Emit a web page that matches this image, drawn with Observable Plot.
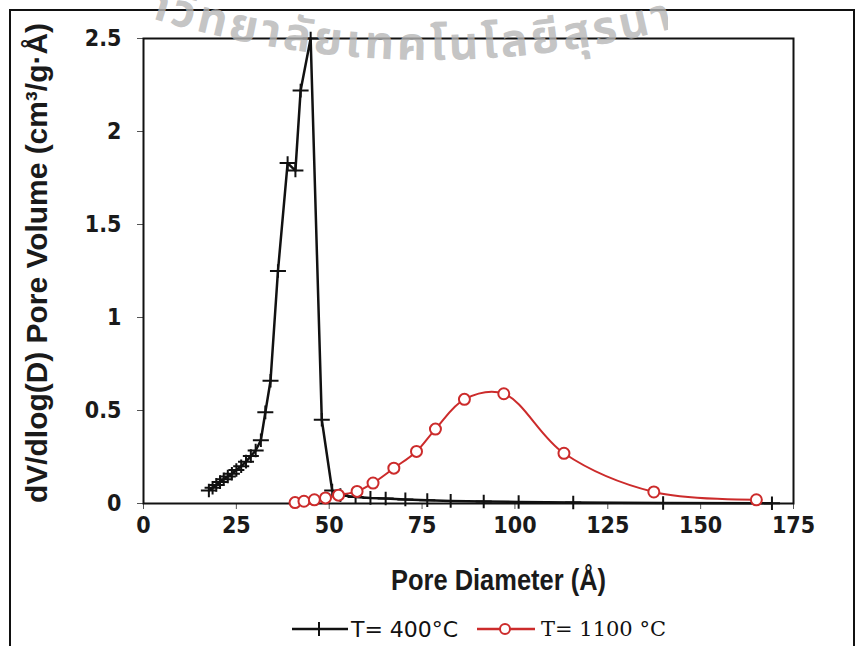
<!DOCTYPE html>
<html>
<head>
<meta charset="utf-8">
<script src="https://cdn.jsdelivr.net/npm/d3@7"></script>
<script src="https://cdn.jsdelivr.net/npm/@observablehq/plot@0.6"></script>
<style>
  html, body { margin: 0; padding: 0; background: #fff; }
  #wrap { position: relative; width: 857px; height: 646px; overflow: hidden; background: #fff; }
  #border { position: absolute; left: 9px; top: 9px; width: 846px; height: 700px; border: 2px solid #111; box-sizing: border-box; pointer-events: none; }
  #legend { position: relative; width: 857px; height: 34px; }
  #wm { position: absolute; left: 0; top: 0; pointer-events: none; }
</style>
</head>
<body>
<div id="wrap">
  <div id="chart"></div>
  <div id="legend"></div>
  <div id="border"></div>
  <svg id="wm" width="857" height="120"></svg>
</div>
<script>
// ---- data ----
const seriesNames = ["T= 400°C", "T= 1100 °C"];
const diameter400 = [17.6,18.6,19.6,20.6,21.6,22.7,23.8,25.0,26.3,27.6,28.9,30.2,31.6,32.8,34.2,36.2,38.8,40.9,42.3,45.0,48.0,50.8,53.0,57.1,61.1,65.2,70.5,76.4,82.7,91.6,101.0,115.7,139.9,169.2];
const volume400   = [0.07,0.085,0.10,0.115,0.13,0.145,0.16,0.18,0.20,0.225,0.255,0.285,0.34,0.49,0.66,1.25,1.83,1.79,2.22,2.5,0.45,0.07,0.045,0.035,0.03,0.027,0.022,0.018,0.014,0.011,0.008,0.005,0.003,0.001];
const diameter1100 = [40.8,43.2,46.0,49.0,52.5,57.5,61.8,67.4,73.5,78.6,86.4,97.0,113.2,137.4,165.0];
const volume1100   = [0.005,0.012,0.02,0.03,0.045,0.065,0.11,0.19,0.28,0.40,0.56,0.59,0.27,0.062,0.02];
const xTicks = [0,25,50,75,100,125,150,175];
const yTicks = [0,0.5,1,1.5,2,2.5];
const xTitle = "Pore Diameter (Å)";
const yTitle = "dV/dlog(D) Pore Volume (cm³/g·Å)";
const watermark = "มหาวิทยาลัยเทคโนโลยีสุรนารี";

const data400 = diameter400.map((d, i) => ({d, v: volume400[i]}));
const data1100 = diameter1100.map((d, i) => ({d, v: volume1100[i]}));

const plusSymbol = {
  draw(ctx, size) {
    const r = Math.sqrt(size / Math.PI);
    ctx.moveTo(-r, 0); ctx.lineTo(r, 0);
    ctx.moveTo(0, -r * 0.85); ctx.lineTo(0, r * 0.85);
  }
};

const black = "#111111";
const red = "#cc2b2b";
const tickFont = "'DejaVu Sans Condensed', 'DejaVu Sans', sans-serif";
const titleFont = "'Liberation Sans Narrow', 'Liberation Sans', Arial, sans-serif";

const chart = Plot.plot({
  width: 857,
  height: 612,
  marginLeft: 143,
  marginRight: 64,
  marginTop: 38,
  marginBottom: 109,
  style: { fontFamily: tickFont, fontSize: "23px", fontWeight: "bold", color: "#1a1a1a", background: "transparent", overflow: "visible" },
  x: { domain: [0, 175] },
  y: { domain: [0, 2.5] },
  marks: [
    Plot.axisX({ ticks: xTicks, tickSize: 6, tickPadding: 7, tickFormat: d => String(d), stroke: "#555",
      label: xTitle, labelAnchor: "center", labelOffset: 88, labelArrow: false }),
    Plot.axisY({ ticks: yTicks, tickSize: 6, tickPadding: 16, tickFormat: d => String(d), stroke: "#555",
      label: yTitle, labelAnchor: "center", labelOffset: 118, labelArrow: false }),
    Plot.frame({ stroke: black, strokeWidth: 2 }),
    Plot.line(data400, { x: "d", y: "v", stroke: black, strokeWidth: 2.5 }),
    Plot.dot(data400, { x: "d", y: "v", symbol: plusSymbol, r: 8, fill: "none", stroke: black, strokeWidth: 2 }),
    Plot.line(data1100, { x: "d", y: "v", stroke: red, strokeWidth: 2, curve: "catmull-rom" }),
    Plot.dot(data1100, { x: "d", y: "v", r: 5.5, fill: "white", stroke: red, strokeWidth: 2 })
  ]
});
document.getElementById("chart").appendChild(chart);

// style the axis titles (exact text, fitted length, small shift as in the reference)
const svg = d3.select(chart);
function fitTitle(sel, text, size, len, dx, dy) {
  sel.each(function () {
    const t = d3.select(this);
    t.selectAll("tspan").remove();
    t.text(text)
      .style("font-family", titleFont).style("font-size", size).style("font-weight", "bold")
      .attr("textLength", len).attr("lengthAdjust", "spacingAndGlyphs");
    const tr = t.attr("transform") || "";
    t.attr("transform", `translate(${dx},${dy}) ${tr}`);
  });
}
fitTitle(svg.selectAll('g[aria-label="x-axis label"] text'), xTitle, "29px", 215, 30, -2);
fitTitle(svg.selectAll('g[aria-label="y-axis label"] text'), yTitle, "30px", 480, 0, -8);

// legend (below the chart)
const leg = d3.select("#legend").append("svg").attr("width", 857).attr("height", 34);
const cy = 17;
leg.append("line").attr("x1", 292).attr("x2", 348).attr("y1", cy).attr("y2", cy).attr("stroke", black).attr("stroke-width", 2.5);
leg.append("path").attr("d", `M312,${cy}H326M319,${cy - 7}V${cy + 7}`).attr("stroke", black).attr("stroke-width", 2).attr("fill", "none");
leg.append("text").attr("x", 351).attr("y", cy).attr("dy", "0.35em").text(seriesNames[0])
  .style("font-family", "'DejaVu Sans', sans-serif").style("font-size", "22px").attr("fill", "#111");
leg.append("line").attr("x1", 477).attr("x2", 535).attr("y1", cy).attr("y2", cy).attr("stroke", red).attr("stroke-width", 2.5);
leg.append("circle").attr("cx", 505).attr("cy", cy).attr("r", 5).attr("fill", "white").attr("stroke", red).attr("stroke-width", 2);
leg.append("text").attr("x", 541).attr("y", cy).attr("dy", "0.35em").text(seriesNames[1])
  .style("font-family", "'DejaVu Serif', serif").style("font-size", "21px").attr("fill", "#111");

// watermark on an arc (only the middle part shows, as in the reference)
const wm = d3.select("#wm");
wm.append("clipPath").attr("id", "wmclip").append("rect").attr("x", 148).attr("y", 0).attr("width", 520).attr("height", 120);
const R = 950, ccx = 430, ccy = 60 - R, a = 40 * Math.PI / 180;
const x0 = ccx - R * Math.sin(a), y0 = ccy + R * Math.cos(a), x1 = ccx + R * Math.sin(a);
const arcLen = R * 2 * a;
wm.append("path").attr("id", "arc").attr("fill", "none")
  .attr("d", `M${x0},${y0}A${R},${R} 0 0 0 ${x1},${y0}`);
wm.append("g").attr("clip-path", "url(#wmclip)").append("text")
  .style("font-family", "'Noto Sans Thai', 'Noto Sans Thai UI', Loma, Garuda, 'Noto Sans', sans-serif")
  .style("font-size", "46px").style("font-weight", "bold").style("letter-spacing", "3.5px")
  .attr("fill", "#b5b5b5").attr("fill-opacity", 0.8)
  .append("textPath").attr("href", "#arc").attr("startOffset", arcLen / 2 - 38).attr("text-anchor", "middle")
  .text(watermark);
</script>
</body>
</html>
